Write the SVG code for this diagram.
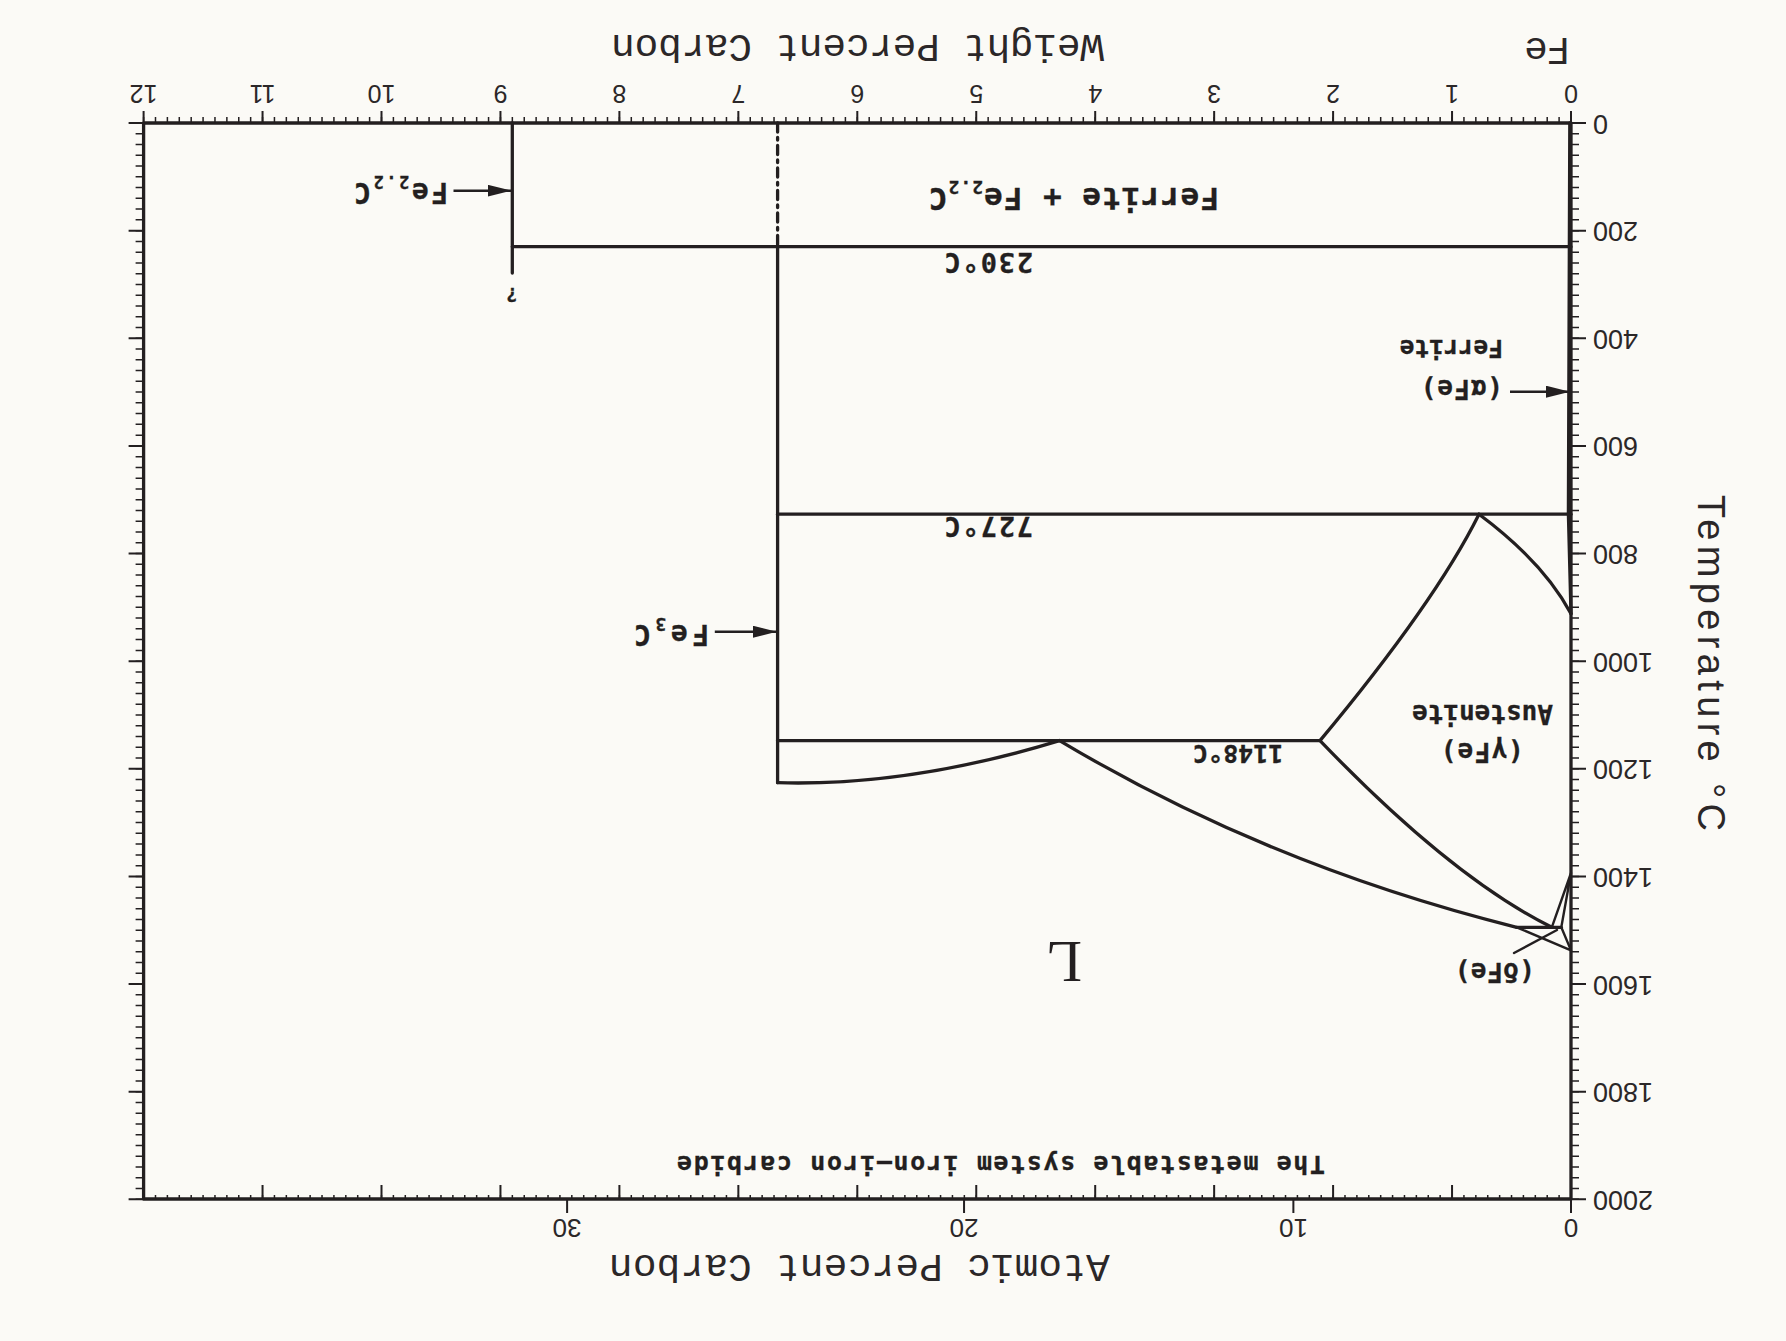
<svg xmlns="http://www.w3.org/2000/svg" width="1786" height="1341" viewBox="0 0 1786 1341">
<defs>
<style>
.ln{fill:none;stroke:#231f20;stroke-width:3.3;stroke-linecap:round;stroke-linejoin:round}
.thin{fill:none;stroke:#231f20;stroke-width:2.4;stroke-linecap:round}
.tk{fill:none;stroke:#231f20}
.ax{font-family:"Liberation Mono","DejaVu Sans Mono",monospace;font-size:39.5px;fill:#2b2728}
.num{font-family:"Liberation Sans",Arial,sans-serif;fill:#2b2728}
.lb{font-family:"DejaVu Sans Mono","Liberation Mono",monospace;font-weight:bold;fill:#231f20;stroke:#231f20;stroke-width:0.3}
.arr{fill:none;stroke:#231f20;stroke-width:2.6}
</style>
<marker id="ah" viewBox="0 0 24 12" refX="24" refY="6" markerWidth="24" markerHeight="12" markerUnits="userSpaceOnUse" orient="auto">
<path d="M0,0 L24,6 L0,12 Z" fill="#231f20"/>
</marker>
</defs>
<rect width="1786" height="1341" fill="#fbfaf6"/>
<g id="diagram" transform="rotate(180 893 670.5)">
<g id="axes">
<rect x="215" y="142" width="1427.4" height="1076" class="ln" stroke-width="3"/>
</g>
<g id="ticks" class="tk">
<line x1="214.25" y1="1221" x2="1644" y2="1221" stroke-width="6" stroke-dasharray="1.5 10.395"/>
<line x1="214" y1="1224" x2="1644" y2="1224" stroke-width="12" stroke-dasharray="2 116.95"/>
<line x1="214.25" y1="144" x2="1644" y2="144" stroke-width="4" stroke-dasharray="1.5 10.395"/>
<line x1="214" y1="149" x2="1644" y2="149" stroke-width="14" stroke-dasharray="2 116.95"/>
<path d="M215,128V142 M492.62,128V142 M821.95,128V142 M1218.89,128V142" stroke-width="2"/>
<line x1="211" y1="1218.75" x2="211" y2="140" stroke-width="8" stroke-dasharray="1.5 9.263"/>
<line x1="207.5" y1="1219" x2="207.5" y2="140" stroke-width="15" stroke-dasharray="2 105.63"/>
<line x1="1646.4" y1="1218.75" x2="1646.4" y2="140" stroke-width="8" stroke-dasharray="1.5 9.263"/>
<line x1="1649.9" y1="1219" x2="1649.9" y2="140" stroke-width="15" stroke-dasharray="2 105.63"/>
</g>
<g id="phase-boundaries">
<line x1="1273.7" y1="1218" x2="1273.7" y2="1068" class="ln"/>
<line x1="215" y1="1094.3" x2="1273.7" y2="1094.3" class="ln"/>
<line x1="1008.4" y1="1218" x2="1008.4" y2="1094.3" class="ln" stroke-linecap="butt" stroke-dasharray="9 5.5 2.5 5.5"/>
<line x1="1008.4" y1="1094.3" x2="1008.4" y2="558.3" class="ln"/>
<line x1="215" y1="826.8" x2="1008.4" y2="826.8" class="ln"/>
<line x1="466" y1="600.4" x2="1008.4" y2="600.4" class="ln"/>
<path d="M726.5,600.4 Q877,554.4 1008.4,558.3" class="ln"/>
<path d="M307,826.8 Q351,738.4 466,600.4" class="ln"/>
<path d="M215,727.3 Q242.5,778.8 307,826.8" class="ln"/>
<path d="M215,727.3 L217.6,826.8 L216.2,1218" class="ln"/>
<path d="M726.5,600.4 Q517.7,475.6 269.3,413.7" class="ln"/>
<path d="M466,600.4 Q334.8,463.7 234.2,413.7" class="ln"/>
<line x1="224.7" y1="413.7" x2="269.3" y2="413.7" class="ln"/>
<path d="M215,468 L224.7,413.7 M215,468 L234.2,413.7" class="thin"/>
<path d="M215,390.6 L224.7,413.7 M215,390.6 L269.3,413.7" class="thin"/>
<line x1="272" y1="388" x2="229" y2="411" class="thin"/>
</g>
<g id="arrows">
<line x1="1332.5" y1="1150.3" x2="1274.5" y2="1150.3" class="arr" marker-end="url(#ah)"/>
<line x1="1071.2" y1="709.3" x2="1009.2" y2="709.3" class="arr" marker-end="url(#ah)"/>
<line x1="276" y1="949.3" x2="216" y2="949.3" class="arr" marker-end="url(#ah)"/>
</g>
<g id="axis-titles">
<text class="ax" x="928.5" y="1306" text-anchor="middle" textLength="493" lengthAdjust="spacing">Weight Percent Carbon</text>
<text class="ax" x="216" y="1303" font-size="34" textLength="46" lengthAdjust="spacing">Fe</text>
<text class="ax" x="926.7" y="86" text-anchor="middle" textLength="501" lengthAdjust="spacing">Atomic Percent Carbon</text>
<text class="num" transform="translate(88 678) rotate(-90)" font-size="38" text-anchor="middle" textLength="336" lengthAdjust="spacing">Temperature °C</text>
</g>
<g id="weight-scale" class="num" font-size="25" text-anchor="middle">
<text x="215" y="1256">0</text>
<text x="333.95" y="1256">1</text>
<text x="452.9" y="1256">2</text>
<text x="571.85" y="1256">3</text>
<text x="690.8" y="1256">4</text>
<text x="809.75" y="1256">5</text>
<text x="928.7" y="1256">6</text>
<text x="1047.65" y="1256">7</text>
<text x="1166.6" y="1256">8</text>
<text x="1285.55" y="1256">9</text>
<text x="1404.5" y="1256">10</text>
<text x="1523.45" y="1256">11</text>
<text x="1642.4" y="1256">12</text>
</g>
<g id="atomic-scale" class="num" font-size="26" text-anchor="middle">
<text x="215" y="122">0</text>
<text x="492.6" y="122">10</text>
<text x="822" y="122">20</text>
<text x="1218.9" y="122">30</text>
</g>
<g id="temperature-scale" class="num" font-size="27" text-anchor="end">
<text x="193" y="1226.5">0</text>
<text x="193" y="1118.9">200</text>
<text x="193" y="1011.2">400</text>
<text x="193" y="903.6">600</text>
<text x="193" y="796">800</text>
<text x="193" y="688.4">1000</text>
<text x="193" y="580.7">1200</text>
<text x="193" y="473.1">1400</text>
<text x="193" y="365.5">1600</text>
<text x="193" y="257.8">1800</text>
<text x="193" y="150.2">2000</text>
</g>
<g id="labels">
<text class="lb" x="567" y="1153" font-size="31" letter-spacing="1">Ferrite + Fe<tspan font-size="18" dy="7">2.2</tspan><tspan dy="-7">C</tspan></text>
<text class="lb" x="1338" y="1157.7" font-size="28" letter-spacing="2.5">Fe<tspan font-size="17" dy="7">2.2</tspan><tspan dy="-7">C</tspan></text>
<text class="lb" x="1274" y="1053" font-size="20" text-anchor="middle">?</text>
<text class="lb" x="1077" y="716" font-size="28" letter-spacing="4.5">Fe<tspan font-size="18" dy="7">3</tspan><tspan dy="-7">C</tspan></text>
<text class="lb" x="753" y="1088" font-size="27" letter-spacing="1.8">230°C</text>
<text class="lb" x="753" y="824.3" font-size="27" letter-spacing="1.8">727°C</text>
<text class="lb" x="502.7" y="596" font-size="25">1148°C</text>
<text class="lb" x="304.3" y="598" font-size="26" text-anchor="middle" letter-spacing="1.2">(γFe)</text>
<text class="lb" x="303.5" y="636" font-size="26" text-anchor="middle">Austenite</text>
<text class="lb" x="283" y="961" font-size="26" letter-spacing="1">(αFe)</text>
<text class="lb" x="283" y="1001" font-size="24.5">Ferrite</text>
<text class="lb" x="251" y="378" font-size="26" letter-spacing="0.5">(δFe)</text>
<text x="722" y="399.3" font-family="'Liberation Serif','Times New Roman',serif" font-size="59" text-anchor="middle" fill="#231f20">L</text>
<text class="lb" x="785" y="185" font-size="25" text-anchor="middle" textLength="648" lengthAdjust="spacing">The metastable system iron–iron carbide</text>
</g>
</g>
</svg>
